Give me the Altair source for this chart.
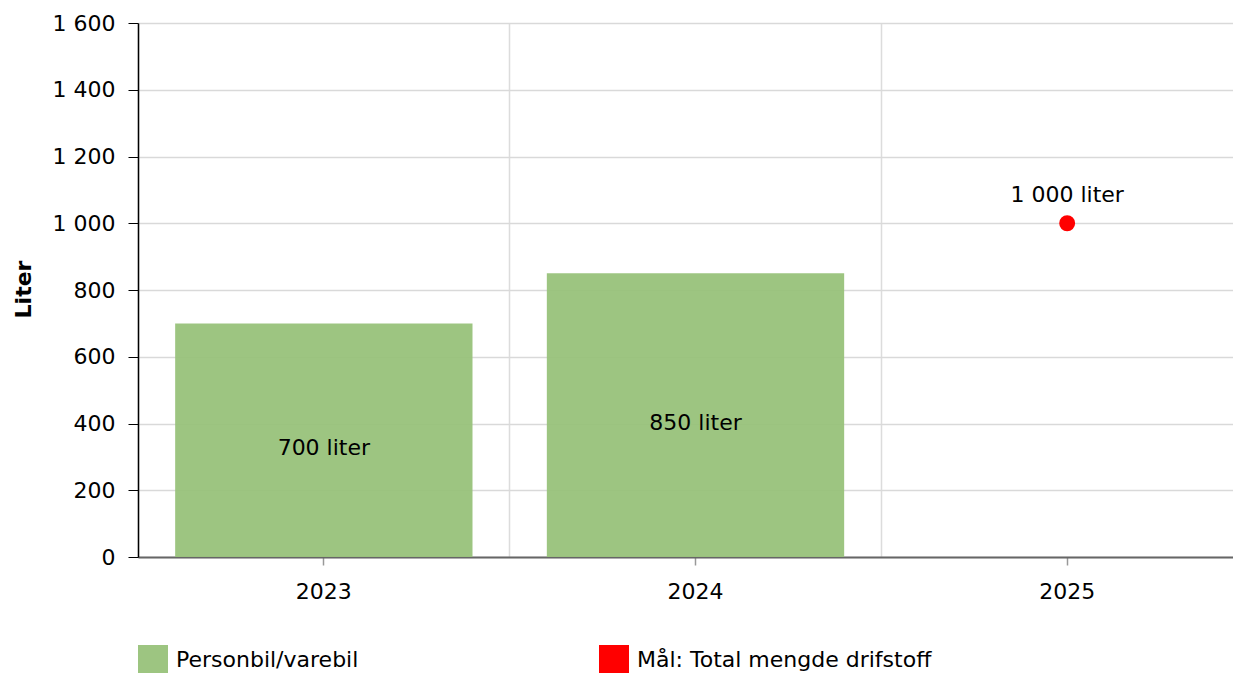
import altair as alt
import pandas as pd

years = ["2023", "2024", "2025"]
bar_years = ["2023", "2024"]
bar_values = [700, 850]
bar_series = "Personbil/varebil"
goal_years = ["2025"]
goal_values = [1000]
goal_series = "Mål: Total mengde drifstoff"
y_ticks = [0, 200, 400, 600, 800, 1000, 1200, 1400, 1600]

FONT = "DejaVu Sans"
FS = 22

bars_df = pd.DataFrame({"year": bar_years, "value": bar_values, "serie": [bar_series] * len(bar_years)})
goal_df = pd.DataFrame({"year": goal_years, "value": goal_values, "serie": [goal_series] * len(goal_years)})
grid_df = pd.DataFrame({"year": years})

num_expr = "replace(format(datum.value, ','), regexp(',', 'g'), ' ')"
lab_expr = "replace(format(datum.value, ','), regexp(',', 'g'), ' ') + ' liter'"

xs = alt.Scale(domain=years, paddingInner=0.2, paddingOuter=0.1, range=[0, 1115])
ys = alt.Scale(domain=[0, 1600], nice=False, zero=True)

x_axis = alt.Axis(
    title=None, grid=False, labelFont=FONT, labelFontSize=FS, labelColor="#000000",
    labelPadding=16, tickSize=8, tickColor="#999999", tickWidth=1.5,
    domainColor="#666666", domainWidth=2, labelAngle=0,
)
y_axis = alt.Axis(
    title="Liter", values=y_ticks, labelExpr=num_expr, labelFont=FONT, labelFontSize=FS,
    labelColor="#000000", labelPadding=13, tickSize=10, tickColor="#000000",
    domainColor="#000000", domainWidth=1.5, gridColor="#d9d9d9", gridWidth=1.5,
    titleFont=FONT, titleFontSize=22, titleFontWeight="bold", titleColor="#000000",
    titleX=-108, titleY=266, titleAngle=270, titleAlign="center", titleBaseline="alphabetic",
)

bars = alt.Chart(bars_df).mark_bar(opacity=0.95).encode(
    x=alt.X("year:N", scale=xs, axis=x_axis),
    y=alt.Y("value:Q", scale=ys, axis=y_axis),
    color=alt.Color(
        "serie:N",
        scale=alt.Scale(domain=[bar_series], range=["#98c27a"]),
        legend=alt.Legend(
            title=None, orient="none", legendX=0, legendY=622, symbolType="square",
            symbolSize=900, symbolStrokeWidth=0, labelFont=FONT, labelFontSize=FS,
            labelColor="#000000", labelOffset=8, padding=0, labelLimit=600,
        ),
    ),
)

bar_labels = alt.Chart(bars_df).transform_calculate(
    mid="datum.value / 2", label=lab_expr
).mark_text(font=FONT, fontSize=FS, color="#000000", dy=8, baseline="middle").encode(
    x=alt.X("year:N", scale=xs),
    y=alt.Y("mid:Q", scale=ys),
    text="label:N",
)

goal = alt.Chart(goal_df).mark_circle(size=254, opacity=1).encode(
    x=alt.X("year:N", scale=xs),
    y=alt.Y("value:Q", scale=ys),
    fill=alt.Fill(
        "serie:N",
        scale=alt.Scale(domain=[goal_series], range=["#ff0000"]),
        legend=alt.Legend(
            title=None, orient="none", legendX=461, legendY=622, symbolType="square",
            symbolSize=900, symbolStrokeWidth=0, labelFont=FONT, labelFontSize=FS,
            labelColor="#000000", labelOffset=8, padding=0, labelLimit=600,
        ),
    ),
)

goal_labels = alt.Chart(goal_df).transform_calculate(label=lab_expr).mark_text(
    font=FONT, fontSize=FS, color="#000000", dy=-28, baseline="middle"
).encode(
    x=alt.X("year:N", scale=xs),
    y=alt.Y("value:Q", scale=ys),
    text="label:N",
)

main = alt.layer(bars, bar_labels, goal, goal_labels)

grid = alt.Chart(grid_df).mark_bar(opacity=0).encode(
    x=alt.X(
        "year:N",
        scale=alt.Scale(domain=years, paddingInner=0, paddingOuter=0, range=[0, 1115]),
        axis=alt.Axis(
            orient="top", title=None, grid=True, bandPosition=0, labels=False, ticks=False,
            domain=False, gridColor="#dcdcdc", gridWidth=1.5,
        ),
    ),
)

chart = alt.layer(grid, main).resolve_scale(x="independent").properties(
    width=1095,
    height=534,
    autosize=alt.AutoSizeParams(type="none"),
    padding={"left": 130, "top": 15, "right": 0, "bottom": 116},
).configure_view(stroke=None)

chart.save("out.html", embed_options={"renderer": "svg", "actions": False})
